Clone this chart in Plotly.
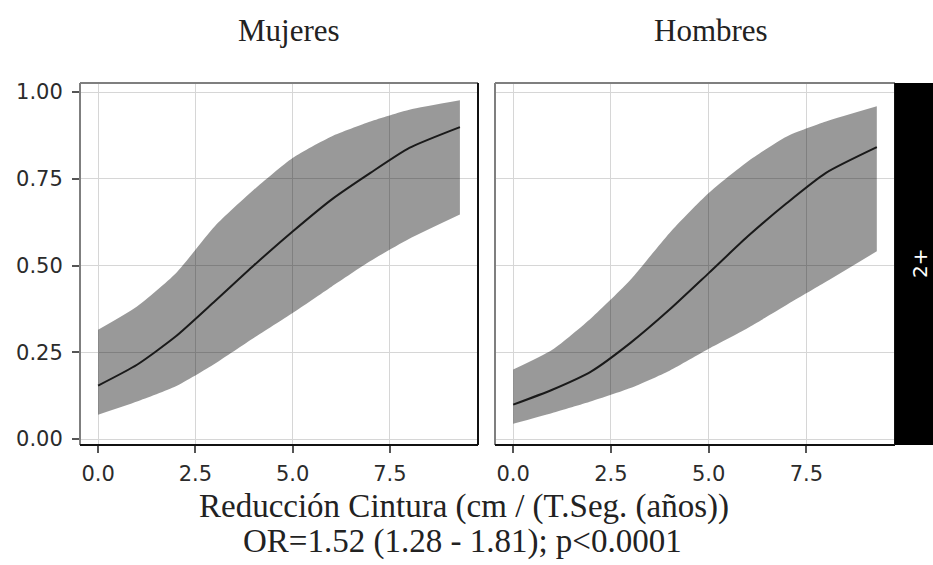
import plotly.graph_objects as go

# ---- data ----
x_vals = [0, 1, 2, 3, 4, 5, 6, 7, 8, 9.3]

muj_fit   = [0.154, 0.214, 0.296, 0.397, 0.500, 0.598, 0.690, 0.767, 0.839, 0.899]
muj_lower = [0.070, 0.108, 0.152, 0.217, 0.291, 0.363, 0.439, 0.513, 0.577, 0.647]
muj_upper = [0.315, 0.382, 0.478, 0.613, 0.718, 0.810, 0.872, 0.915, 0.949, 0.976]

hom_fit   = [0.099, 0.142, 0.195, 0.277, 0.373, 0.478, 0.584, 0.680, 0.767, 0.841]
hom_lower = [0.044, 0.075, 0.109, 0.147, 0.197, 0.260, 0.320, 0.387, 0.453, 0.541]
hom_upper = [0.200, 0.257, 0.349, 0.459, 0.594, 0.709, 0.800, 0.872, 0.915, 0.959]

panel_titles = ["Mujeres", "Hombres"]
strip_label = "2+"
x_ticks = [0, 2.5, 5, 7.5]
x_ticktext = ["0.0", "2.5", "5.0", "7.5"]
y_ticks = [0, 0.25, 0.5, 0.75, 1.0]
y_ticktext = ["0.00", "0.25", "0.50", "0.75", "1.00"]
xtitle1 = "Reducción Cintura (cm / (T.Seg. (años))"
xtitle2 = "OR=1.52 (1.28 - 1.81); p<0.0001"

W, H = 933, 565
ML, MR, MT, MB = 80, 38, 83, 120
PW = W - ML - MR
PH = H - MT - MB

def px_x(p):
    return (p - ML) / PW

def px_y(p):
    return (H - MB - p) / PH

fig = go.Figure()

series = [
    (muj_fit, muj_lower, muj_upper, "x", "y"),
    (hom_fit, hom_lower, hom_upper, "x2", "y2"),
]
for fit, lo, up, xa, ya in series:
    fig.add_trace(go.Scatter(
        x=x_vals, y=lo, mode="lines",
        line=dict(width=0, shape="spline", smoothing=0.6),
        xaxis=xa, yaxis=ya, hoverinfo="skip", showlegend=False))
    fig.add_trace(go.Scatter(
        x=x_vals, y=up, mode="lines", fill="tonexty", fillcolor="rgba(0,0,0,0.4)",
        line=dict(width=0, shape="spline", smoothing=0.6),
        xaxis=xa, yaxis=ya, hoverinfo="skip", showlegend=False))
    fig.add_trace(go.Scatter(
        x=x_vals, y=fit, mode="lines",
        line=dict(color="#1a1a1a", width=2, shape="spline", smoothing=0.6),
        xaxis=xa, yaxis=ya, showlegend=False))

xrange = [-0.465, 9.765]
yrange = [-0.0173, 1.026]
tickfont = dict(family="DejaVu Sans, Liberation Sans, sans-serif", size=21, color="#2b2b2b")

ax_common = dict(showgrid=True, gridcolor="#d6d6d6", gridwidth=1, zeroline=False,
                 ticklen=7, tickcolor="#555555", tickwidth=1.5,
                 tickfont=tickfont, showline=False)

d1 = [0, px_x(478)]
d2 = [px_x(495), 1]
fig.update_layout(
    xaxis=dict(domain=d1, range=xrange, tickvals=x_ticks, ticktext=x_ticktext,
               anchor="y", ticks="outside", ticklabelstandoff=3, **ax_common),
    yaxis=dict(domain=[0, 1], range=yrange, tickvals=y_ticks, ticktext=y_ticktext,
               anchor="x", ticks="outside", ticklabelstandoff=5, **ax_common),
    xaxis2=dict(domain=d2, range=xrange, tickvals=x_ticks, ticktext=x_ticktext,
                anchor="y2", ticks="outside", ticklabelstandoff=3, **ax_common),
    yaxis2=dict(domain=[0, 1], range=yrange, tickvals=y_ticks, showticklabels=False,
                anchor="x2", ticks="", **ax_common),
)

shapes = []
for dom in (d1, d2):
    x0, x1 = dom
    # gray top and left, black bottom and right
    shapes.append(dict(type="line", xref="paper", yref="paper", x0=x0, x1=x1, y0=1, y1=1,
                       line=dict(color="#7f7f7f", width=2)))
    shapes.append(dict(type="line", xref="paper", yref="paper", x0=x0, x1=x0, y0=0, y1=1,
                       line=dict(color="#7f7f7f", width=2)))
    shapes.append(dict(type="line", xref="paper", yref="paper", x0=x0, x1=x1, y0=0, y1=0,
                       line=dict(color="#111111", width=2)))
    shapes.append(dict(type="line", xref="paper", yref="paper", x0=x1, x1=x1, y0=0, y1=1,
                       line=dict(color="#111111", width=2)))
# facet strip on the right
shapes.append(dict(type="rect", xref="paper", yref="paper", x0=1, x1=px_x(W + 5), y0=0, y1=1,
                   fillcolor="#000000", line=dict(width=0)))

serif = "Liberation Serif, Times New Roman, serif"
annotations = [
    dict(text=panel_titles[0], x=px_x(289), y=px_y(31), xref="paper", yref="paper",
         showarrow=False, xanchor="center", yanchor="middle",
         font=dict(family=serif, size=31, color="#222222")),
    dict(text=panel_titles[1], x=px_x(711), y=px_y(31), xref="paper", yref="paper",
         showarrow=False, xanchor="center", yanchor="middle",
         font=dict(family=serif, size=31, color="#222222")),
    dict(text=xtitle1, x=px_x(464), y=px_y(506), xref="paper", yref="paper",
         showarrow=False, xanchor="center", yanchor="middle",
         font=dict(family=serif, size=33, color="#222222")),
    dict(text=xtitle2, x=px_x(462), y=px_y(541), xref="paper", yref="paper",
         showarrow=False, xanchor="center", yanchor="middle",
         font=dict(family=serif, size=33, color="#222222")),
    dict(text=strip_label, x=px_x(920), y=0.5, xref="paper", yref="paper",
         showarrow=False, xanchor="center", yanchor="middle", textangle=-90,
         font=dict(family="DejaVu Sans, Liberation Sans, sans-serif", size=20, color="#ffffff")),
]

fig.update_layout(
    width=W, height=H,
    margin=dict(l=ML, r=MR, t=MT, b=MB),
    paper_bgcolor="white", plot_bgcolor="white",
    shapes=shapes, annotations=annotations, showlegend=False,
)

fig.write_html("out.html")
